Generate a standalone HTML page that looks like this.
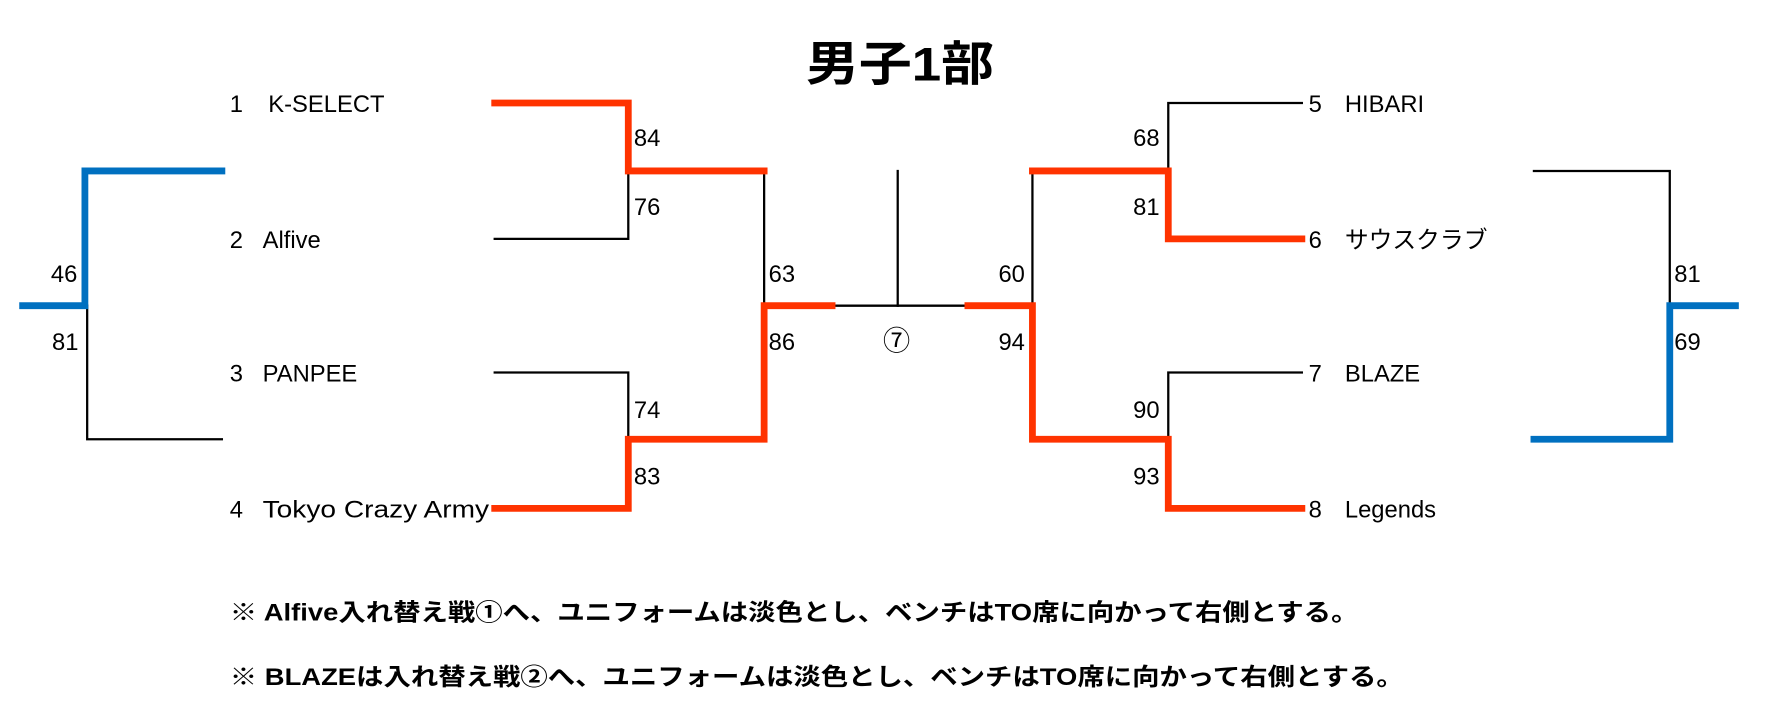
<!DOCTYPE html>
<html><head><meta charset="utf-8"><style>
html,body{margin:0;padding:0;background:#fff;}
svg{display:block}
text{font-family:"Liberation Sans","Noto Sans CJK JP",sans-serif;fill:#000;}
.n{font-size:21px;}
.t{font-size:21px;}
.b{font-weight:bold;}
</style></head><body>
<svg width="1766" height="723" viewBox="0 0 1560 638.6" preserveAspectRatio="none" xmlns="http://www.w3.org/2000/svg">
<g fill="none" stroke-linecap="square" stroke-linejoin="miter">
<g stroke="#000" stroke-width="2">
<polyline points="77,270 77,388 196,388"/>
<polyline points="555,151 555,211 437,211"/>
<polyline points="675,151 675,270"/>
<polyline points="437,329 555,329 555,388"/>
<polyline points="735,270 855,270"/>
<polyline points="793,151 793,270"/>
<polyline points="1150,329 1032,329 1032,388"/>
<polyline points="912,151 912,270"/>
<polyline points="1150,91 1032,91 1032,151"/>
<polyline points="1355,151 1475,151 1475,270"/>
</g>
<g stroke="#ff3300" stroke-width="6">
<polyline points="437,91 555,91 555,151 675,151"/>
<polyline points="735,270 675,270 675,388 555,388 555,449 437,449"/>
<polyline points="855,270 912,270 912,388 1032,388 1032,449 1150,449"/>
<polyline points="912,151 1032,151 1032,211 1150,211"/>
</g>
<g stroke="#0070c0" stroke-width="6">
<polyline points="196,151 75,151 75,270 20,270"/>
<polyline points="1533,270 1475,270 1475,388 1355,388"/>
</g>
</g>
<text x="712" y="71" font-size="42" class="b" textLength="166" lengthAdjust="spacingAndGlyphs">男子1部</text>
<g class="t">
<text x="203" y="99">1</text><text x="237" y="99">K-SELECT</text>
<text x="203" y="219">2</text><text x="232" y="219">Alfive</text>
<text x="203" y="337">3</text><text x="232" y="337">PANPEE</text>
<text x="203" y="457">4</text><text x="232" y="457" textLength="200" lengthAdjust="spacingAndGlyphs">Tokyo Crazy Army</text>
<text x="1156" y="99">5</text><text x="1188" y="99">HIBARI</text>
<text x="1156" y="219">6</text><text x="1188" y="219">サウスクラブ</text>
<text x="1156" y="337">7</text><text x="1188" y="337">BLAZE</text>
<text x="1156" y="457">8</text><text x="1188" y="457">Legends</text>
</g>
<g class="n">
<text x="560" y="129">84</text><text x="560" y="190">76</text>
<text x="679" y="249">63</text><text x="679" y="309">86</text>
<text x="560" y="369">74</text><text x="560" y="428">83</text>
<text x="45" y="249">46</text><text x="46" y="309">81</text>
<text x="1001" y="129">68</text><text x="1001" y="190">81</text>
<text x="882" y="249">60</text><text x="882" y="309">94</text>
<text x="1001" y="369">90</text><text x="1001" y="428">93</text>
<text x="1479" y="249">81</text><text x="1479" y="309">69</text>
<text x="780" y="309" font-size="24">⑦</text>
</g>
<text x="203" y="548" font-size="21" class="b" textLength="997" lengthAdjust="spacingAndGlyphs">※ Alfive入れ替え戦①へ、ユニフォームは淡色とし、ベンチはTO席に向かって右側とする。</text>
<text x="203" y="605" font-size="21" class="b" textLength="1037" lengthAdjust="spacingAndGlyphs">※ BLAZEは入れ替え戦②へ、ユニフォームは淡色とし、ベンチはTO席に向かって右側とする。</text>
</svg>
</body></html>
